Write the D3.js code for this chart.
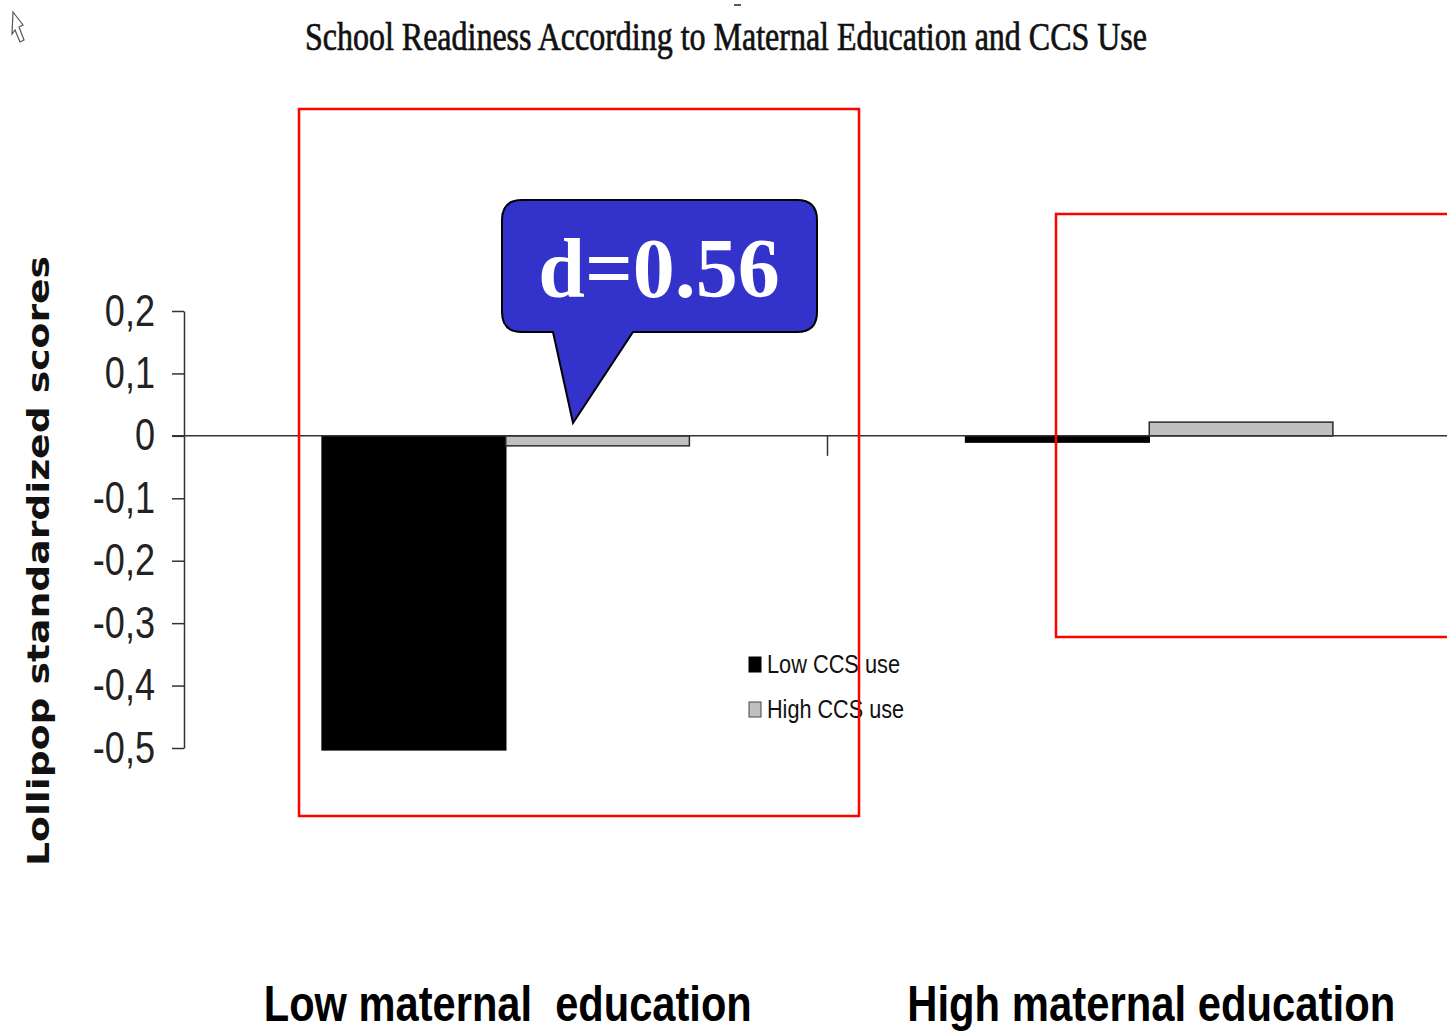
<!DOCTYPE html>
<html>
<head>
<meta charset="utf-8">
<script src="https://cdn.jsdelivr.net/npm/d3@7"></script>
<style>
  html, body { margin: 0; padding: 0; background: #fff; }
  svg { display: block; }
</style>
</head>
<body>
<svg id="chart" width="1447" height="1036"></svg>
<script>
// Group labels along the bottom, and the two CCS-use series
const categories = ["Low maternal  education", "High maternal education"];
const series = ["Low CCS use", "High CCS use"];
const lowCcsValues = [-0.503, -0.010];
const highCcsValues = [-0.016, 0.022];
const seriesColors = ["#000000", "#c0c0c0"];

// Y axis ticks and their comma-decimal labels
const yTickValues = [0.2, 0.1, 0, -0.1, -0.2, -0.3, -0.4, -0.5];
const yTickLabels = ["0,2", "0,1", "0", "-0,1", "-0,2", "-0,3", "-0,4", "-0,5"];

const titleText = "School Readiness According to Maternal Education and CCS Use";
const yTitleText = "Lollipop standardized scores";
const effectLabel = "d=0.56";

const svg = d3.select("#chart");

const y = d3.scaleLinear().domain([0.2, -0.5]).range([311, 748]);
const x = d3.scaleBand().domain(categories).range([184, 1471]).padding(0);
const xs = d3.scaleBand().domain(series).range([0, x.bandwidth()])
  .paddingInner(0).paddingOuter(0.752);

const rows = categories.map((c, i) => ({
  category: c,
  values: [lowCcsValues[i], highCcsValues[i]]
}));

// Small cursor glyph in the upper-left corner
svg.append("path")
  .attr("d", "M13,12 L23,25 L19,27 L24,40 L20,42 L15,30 L12,34 Z")
  .attr("fill", "none").attr("stroke", "#555").attr("stroke-width", 1.2);

// Title
svg.append("line").attr("x1", 734).attr("x2", 741).attr("y1", 5).attr("y2", 5)
  .attr("stroke", "#222").attr("stroke-width", 1.5);
svg.append("text")
  .attr("x", 305).attr("y", 50)
  .attr("textLength", 842).attr("lengthAdjust", "spacingAndGlyphs")
  .style("font-family", "'Liberation Serif', 'Times New Roman', serif")
  .style("font-size", "40px").attr("fill", "#111")
  .attr("stroke", "#111").attr("stroke-width", 0.7)
  .text(titleText);

// Y axis title
svg.append("text")
  .attr("transform", "translate(49,561) rotate(-90)")
  .attr("text-anchor", "middle")
  .attr("textLength", 610).attr("lengthAdjust", "spacingAndGlyphs")
  .style("font-family", "'DejaVu Sans', Verdana, sans-serif")
  .style("font-weight", "bold").style("font-size", "31px")
  .attr("fill", "#111")
  .text(yTitleText);

// Bars
const groups = svg.append("g").selectAll("g").data(rows).join("g")
  .attr("transform", d => `translate(${x(d.category)},0)`);
groups.selectAll("rect")
  .data(d => d.values.map((v, j) => ({ key: series[j], value: v, j })))
  .join("rect")
  .attr("x", d => xs(d.key))
  .attr("width", xs.bandwidth())
  .attr("y", d => y(Math.max(0, d.value)))
  .attr("height", d => Math.abs(y(d.value) - y(0)))
  .attr("fill", d => seriesColors[d.j])
  .attr("stroke", d => d.j === 0 ? "#000" : "#2a2a2a")
  .attr("stroke-width", 1.5);

// Y axis
const yAxis = d3.axisLeft(y).tickValues(yTickValues)
  .tickSize(12).tickSizeOuter(0)
  .tickFormat((d, i) => yTickLabels[i]);
const yg = svg.append("g").attr("transform", "translate(184,0)").call(yAxis);
yg.select(".domain").attr("stroke", "#333").attr("stroke-width", 1.5);
yg.selectAll(".tick line").attr("stroke", "#333").attr("stroke-width", 1.5);
const squeeze = 0.82;
yg.selectAll(".tick text")
  .attr("x", -29 / squeeze)
  .attr("transform", `scale(${squeeze},1)`)
  .attr("fill", "#222")
  .style("font-family", "'Liberation Sans', Arial, sans-serif")
  .style("font-size", "44px");

// Zero baseline across the plot
svg.append("line")
  .attr("x1", 172).attr("x2", 1447)
  .attr("y1", y(0)).attr("y2", y(0))
  .attr("stroke", "#333").attr("stroke-width", 1.5);

// Category divider ticks below the baseline
svg.append("g").selectAll("line").data(categories.slice(1)).join("line")
  .attr("x1", d => x(d)).attr("x2", d => x(d))
  .attr("y1", y(0)).attr("y2", y(0) + 20)
  .attr("stroke", "#333").attr("stroke-width", 1.5);

// Category labels
svg.append("g").selectAll("text").data(categories).join("text")
  .attr("x", d => x(d) + x.bandwidth() / 2 + 2)
  .attr("y", 1021)
  .attr("text-anchor", "middle")
  .attr("textLength", 488).attr("lengthAdjust", "spacingAndGlyphs")
  .style("white-space", "pre")
  .style("font-family", "'Liberation Sans', Arial, sans-serif")
  .style("font-weight", "bold").style("font-size", "50px")
  .attr("fill", "#000")
  .text(d => d);

// Legend
const legendTextLengths = [133, 137];
const legend = svg.append("g").selectAll("g").data(series).join("g")
  .attr("transform", (d, i) => `translate(749,${657 + i * 45})`);
legend.append("rect")
  .attr("width", 12).attr("height", 15)
  .attr("fill", (d, i) => seriesColors[i])
  .attr("stroke", (d, i) => i === 0 ? "#000" : "#444").attr("stroke-width", 1);
legend.append("text")
  .attr("x", 18).attr("y", 16)
  .attr("textLength", (d, i) => legendTextLengths[i])
  .attr("lengthAdjust", "spacingAndGlyphs")
  .style("font-family", "'Liberation Sans', Arial, sans-serif")
  .style("font-size", "25px").attr("fill", "#111")
  .text(d => d);

// Effect-size callout
svg.append("path")
  .attr("d", "M522,200 H797 Q817,200 817,220 V312 Q817,332 797,332 H633 L573,423 L553,332 H522 Q502,332 502,312 V220 Q502,200 522,200 Z")
  .attr("fill", "#3333cc").attr("stroke", "#000").attr("stroke-width", 2);
svg.append("text")
  .attr("x", 659).attr("y", 297)
  .attr("text-anchor", "middle")
  .style("font-family", "'Liberation Serif', 'Times New Roman', serif")
  .style("font-weight", "bold").style("font-size", "84px")
  .attr("fill", "#fff")
  .text(effectLabel);

// Highlight boxes
svg.append("rect").attr("x", 299).attr("y", 109).attr("width", 560).attr("height", 707)
  .attr("fill", "none").attr("stroke", "#ff0000").attr("stroke-width", 2.5);
svg.append("rect").attr("x", 1056).attr("y", 214).attr("width", 420).attr("height", 423)
  .attr("fill", "none").attr("stroke", "#ff0000").attr("stroke-width", 2.5);
</script>
</body>
</html>
